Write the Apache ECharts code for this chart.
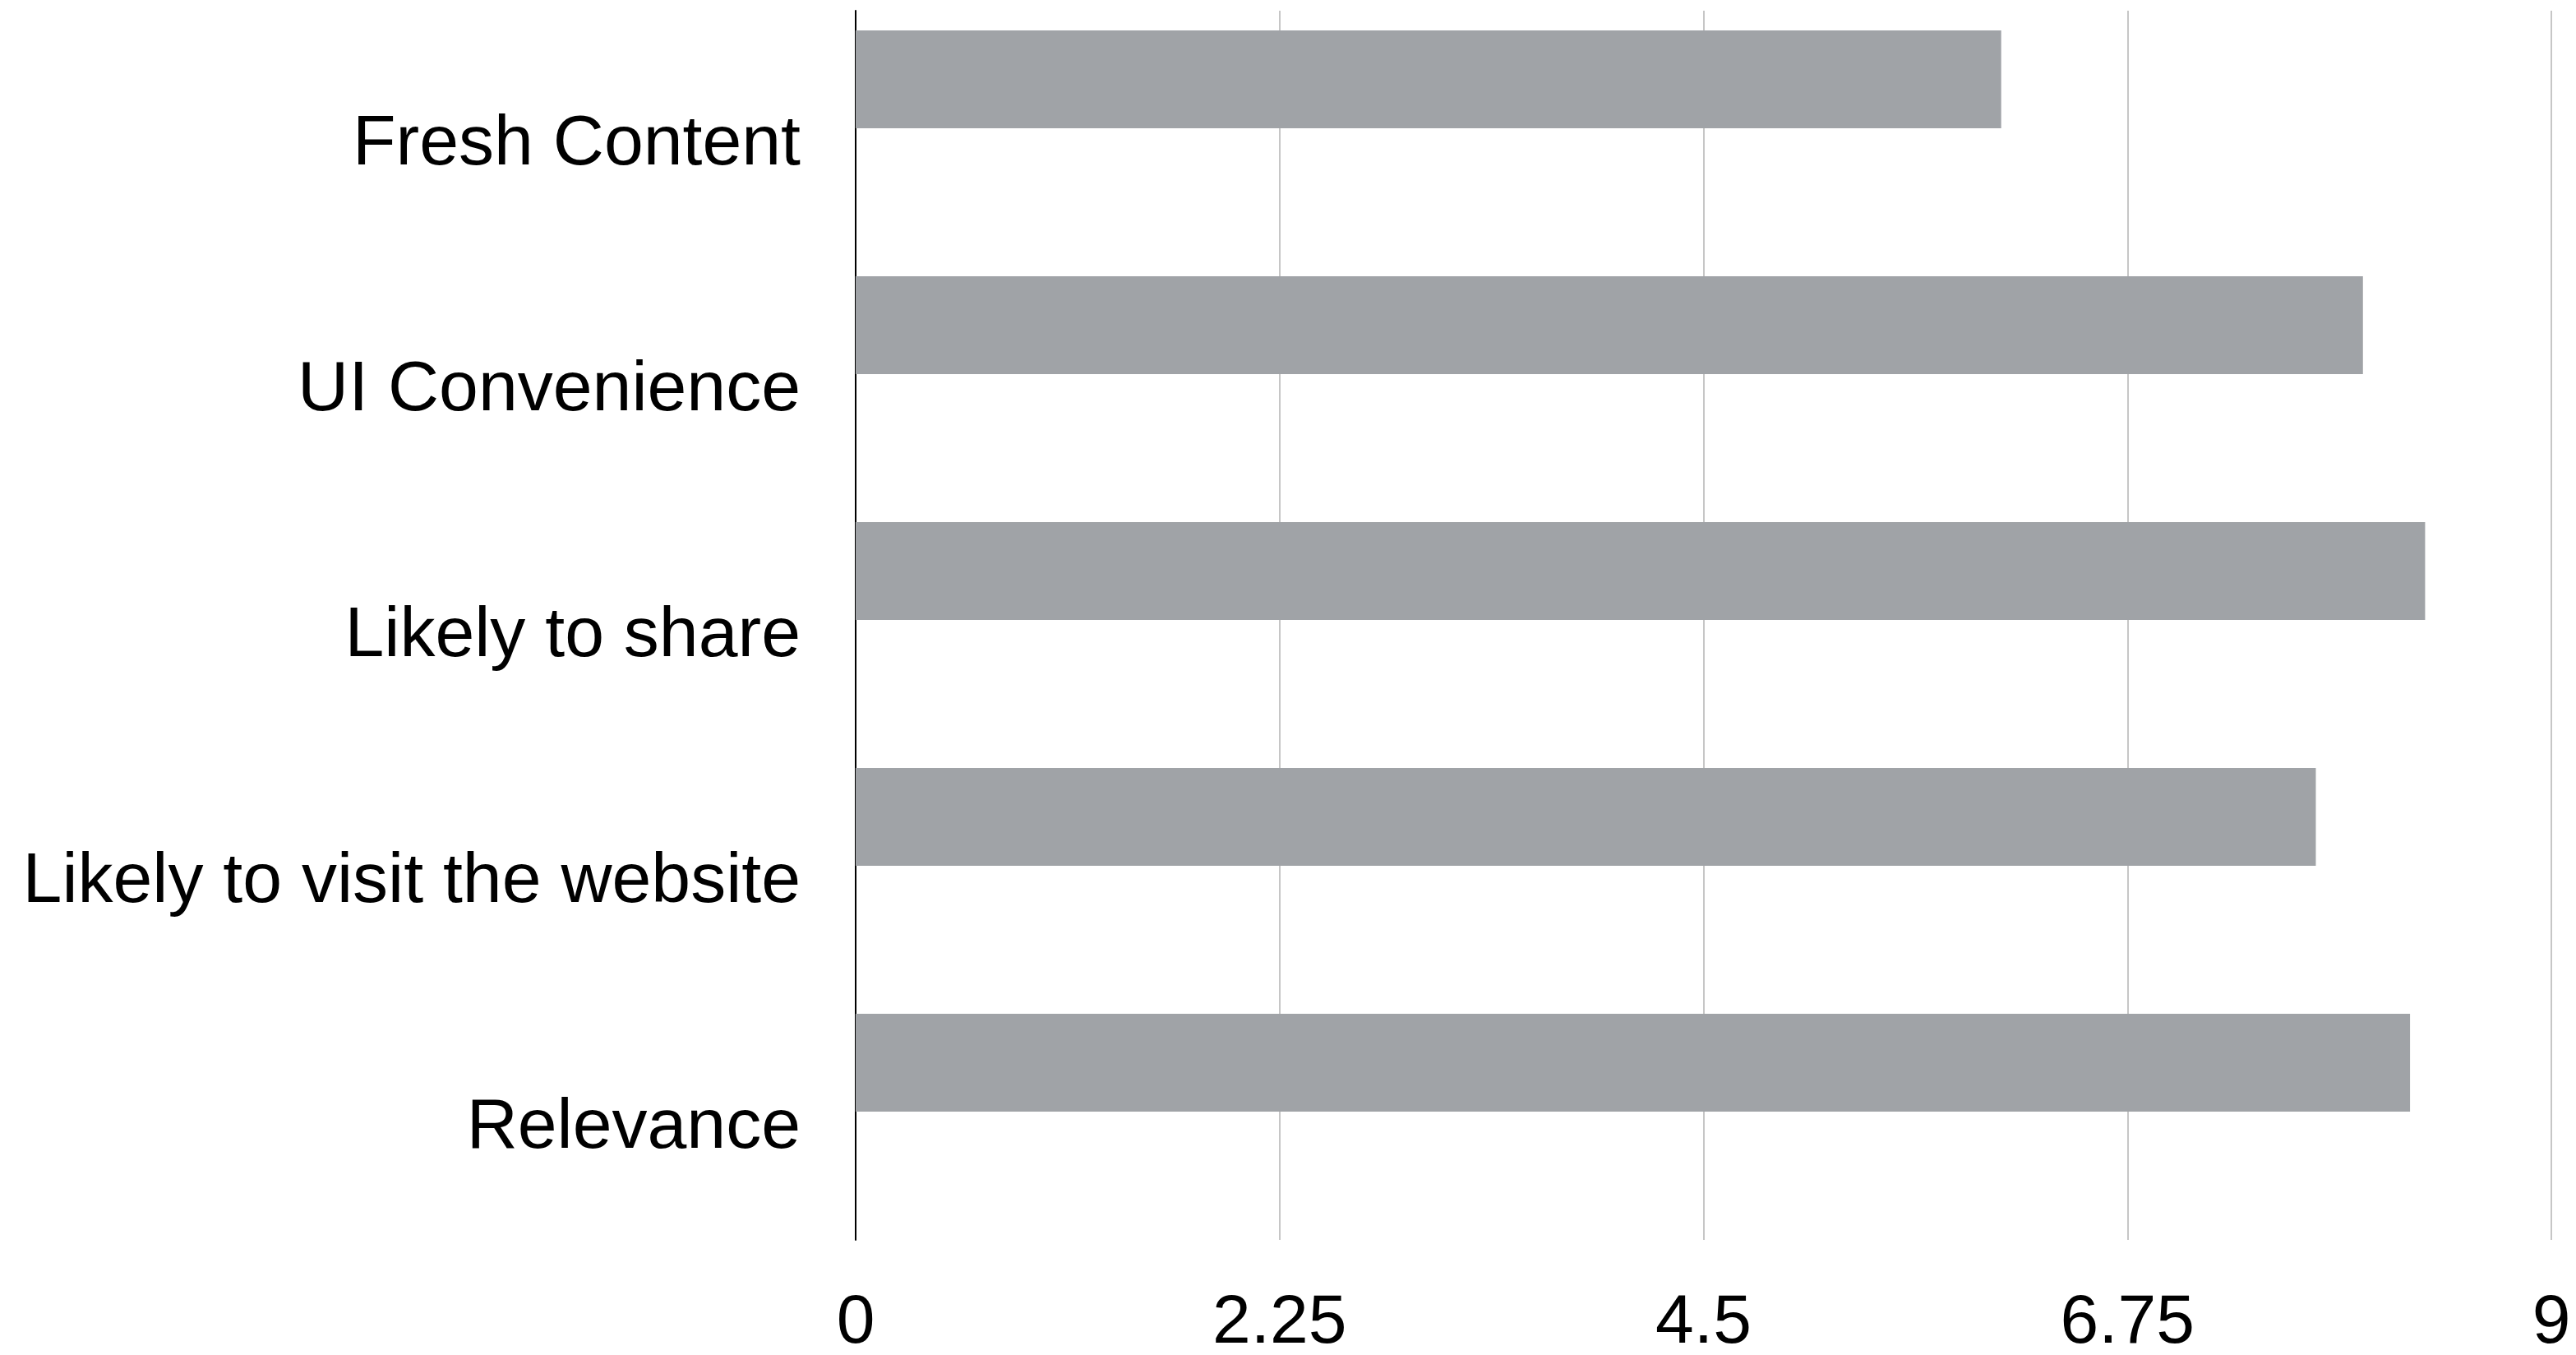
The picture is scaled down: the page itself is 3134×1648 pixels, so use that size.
<!DOCTYPE html>
<html>
<head>
<meta charset="utf-8">
<script src="https://cdn.jsdelivr.net/npm/echarts@6/dist/echarts.min.js"></script>
<style>
    html, body { margin: 0; padding: 0; background: #fff; }
    #chart { width: 3134px; height: 1648px; }
</style>
</head>
<body>
<div id="chart"></div>
<script>
    'use strict';
    // categories, top to bottom
    var categories = ['Fresh Content', 'UI Convenience', 'Likely to share', 'Likely to visit the website', 'Relevance'];
    var scores = [6.08, 8.0, 8.33, 7.75, 8.25];
    var tickStep = 2.25;
    var axisMax = 9;

    var emptyRow = categories.map(function () { return '-'; });
    var labelFont = '"Liberation Sans", Helvetica, Arial, sans-serif';

    var myChart = echarts.init(document.getElementById('chart'));
    myChart.setOption({
        animation: false,
        backgroundColor: '#ffffff',
        grid: {
            left: 1041, right: 30, top: 13, bottom: 140,
            containLabel: false,
            outerBoundsMode: 'none'
        },
        xAxis: {
            type: 'value',
            min: 0,
            max: axisMax,
            interval: tickStep,
            axisLine: { show: false },
            axisTick: { show: false },
            splitLine: { show: true, lineStyle: { color: '#c6c6c6', width: 2 } },
            axisLabel: { color: '#000', fontSize: 84, fontFamily: labelFont, margin: 60 }
        },
        yAxis: {
            type: 'category',
            inverse: true,
            data: categories,
            axisLine: { show: true, lineStyle: { color: '#000', width: 2 } },
            axisTick: { show: false },
            splitLine: { show: false },
            axisLabel: {
                color: '#000', fontSize: 86, fontFamily: labelFont, margin: 67,
                verticalAlign: 'top', lineHeight: 28
            }
        },
        series: [
            {
                type: 'bar',
                data: scores,
                barWidth: 119,
                barGap: '11%',
                itemStyle: { color: '#a0a3a7' }
            },
            {
                // empty slot, keeps the bars in the upper half of each row
                type: 'bar',
                data: emptyRow,
                barWidth: 119,
                itemStyle: { color: 'transparent' }
            }
        ]
    });
</script>
</body>
</html>
